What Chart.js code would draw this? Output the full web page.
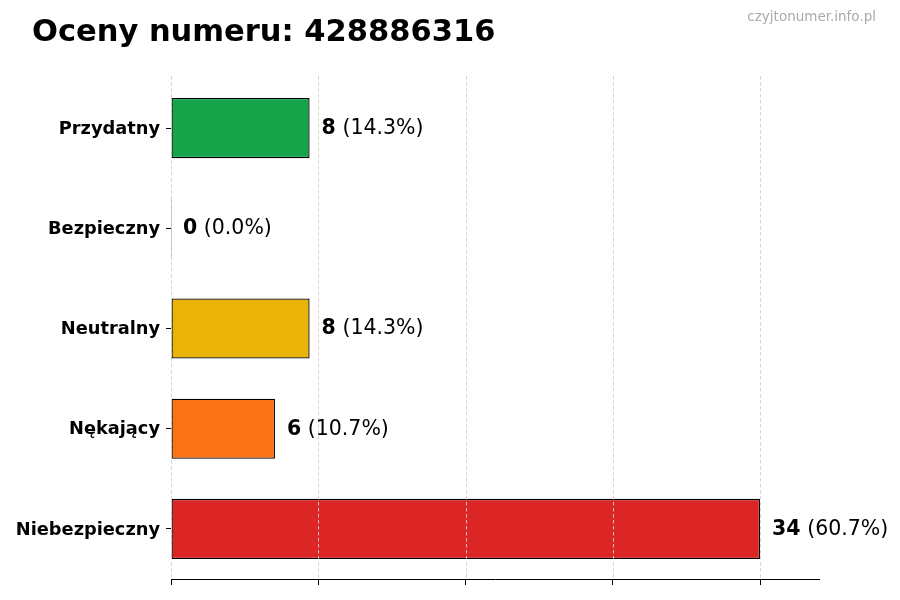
<!DOCTYPE html>
<html>
<head>
<meta charset="utf-8">
<script src="https://cdn.jsdelivr.net/npm/chart.js@4.4.1/dist/chart.umd.min.js"></script>
<style>
  html, body { margin: 0; padding: 0; background: #fff; }
  canvas { display: block; }
</style>
</head>
<body>
<canvas id="chart" width="900" height="600"></canvas>
<script>
const titleText = 'Oceny numeru: 428886316';
const watermark = 'czyjtonumer.info.pl';
const categories = ['Przydatny', 'Bezpieczny', 'Neutralny', 'Nękający', 'Niebezpieczny'];
const counts = [8, 0, 8, 6, 34];
const barColors = ['#16a34a', '#3b82f6', '#eab308', '#f97316', '#dc2626'];
const xTickValues = [0, 8.5, 17, 25.5, 34];
const xMax = 37.4;

const FONT = "'DejaVu Sans', sans-serif";
const total = counts.reduce((a, b) => a + b, 0);

// title + watermark, drawn on the canvas
const headerPlugin = {
  id: 'header',
  afterDraw(chart) {
    const ctx = chart.ctx;
    ctx.save();
    ctx.fillStyle = '#000';
    ctx.font = 'bold 30.5px ' + FONT;
    ctx.textAlign = 'left';
    ctx.textBaseline = 'alphabetic';
    ctx.fillText(titleText, 32, 41);
    ctx.fillStyle = '#aaaaaa';
    ctx.font = '13.5px ' + FONT;
    ctx.textAlign = 'right';
    ctx.textBaseline = 'middle';
    ctx.fillText(watermark, 876, 17);
    ctx.restore();
  }
};

// dashed vertical grid on top of the bars, like the original
const gridOverPlugin = {
  id: 'gridOver',
  afterDatasetsDraw(chart) {
    const { ctx, chartArea, scales } = chart;
    ctx.save();
    ctx.strokeStyle = '#cfcfcf';
    ctx.lineWidth = 0.9;
    ctx.setLineDash([3.5, 2.5]);
    scales.x.ticks.forEach(t => {
      const px = Math.round(scales.x.getPixelForValue(t.value)) + 0.5;
      ctx.beginPath();
      ctx.moveTo(px, chartArea.top - 2);
      ctx.lineTo(px, chartArea.bottom);
      ctx.stroke();
    });
    ctx.restore();
  }
};

// "8 (14.3%)" after each bar
const valueLabelPlugin = {
  id: 'valueLabels',
  afterDatasetsDraw(chart) {
    const ctx = chart.ctx;
    const meta = chart.getDatasetMeta(0);
    const x0 = chart.scales.x.getPixelForValue(0);
    ctx.save();
    ctx.textBaseline = 'middle';
    ctx.textAlign = 'left';
    ctx.fillStyle = '#000';
    meta.data.forEach((bar, i) => {
      const end = chart.scales.x.getPixelForValue(counts[i]);
      const x = Math.max(end, x0) + 12;
      const y = bar.y + 0.5;
      const num = String(counts[i]);
      const pct = ' (' + (counts[i] / total * 100).toFixed(1) + '%)';
      ctx.font = 'bold 20.5px ' + FONT;
      ctx.fillText(num, x, y);
      const w = ctx.measureText(num).width;
      ctx.font = '20.5px ' + FONT;
      ctx.fillText(pct, x + w, y);
    });
    ctx.restore();
  }
};

new Chart(document.getElementById('chart'), {
  type: 'bar',
  data: {
    labels: categories,
    datasets: [{
      data: counts,
      backgroundColor: barColors,
      borderColor: '#000',
      borderWidth: 1.3,
      borderSkipped: false,
      minBarLength: 1,
      barPercentage: 0.6,
      categoryPercentage: 1.0
    }]
  },
  options: {
    indexAxis: 'y',
    responsive: false,
    animation: false,
    layout: { padding: { top: 78, right: 81, bottom: 0, left: 0 } },
    plugins: {
      legend: { display: false },
      title: { display: false },
      tooltip: { enabled: false }
    },
    scales: {
      x: {
        min: 0,
        max: xMax,
        afterBuildTicks(scale) {
          scale.ticks = xTickValues.map(v => ({ value: v }));
        },
        afterFit(scale) { scale.height = 21; },
        ticks: { display: false },
        grid: {
          drawOnChartArea: false,
          drawTicks: true,
          tickLength: 6,
          color: '#000',
          tickColor: '#000'
        },
        border: { display: true, color: '#000', width: 1 }
      },
      y: {
        afterFit(scale) { scale.width = 171; },
        ticks: {
          color: '#000',
          padding: 6,
          labelOffset: 1,
          font: { family: FONT, size: 17.8, weight: 'bold' }
        },
        grid: {
          offset: false,
          drawOnChartArea: false,
          drawTicks: true,
          tickLength: 5,
          color: '#000',
          tickColor: '#000'
        },
        border: { display: false }
      }
    }
  },
  plugins: [headerPlugin, gridOverPlugin, valueLabelPlugin]
});
</script>
</body>
</html>
